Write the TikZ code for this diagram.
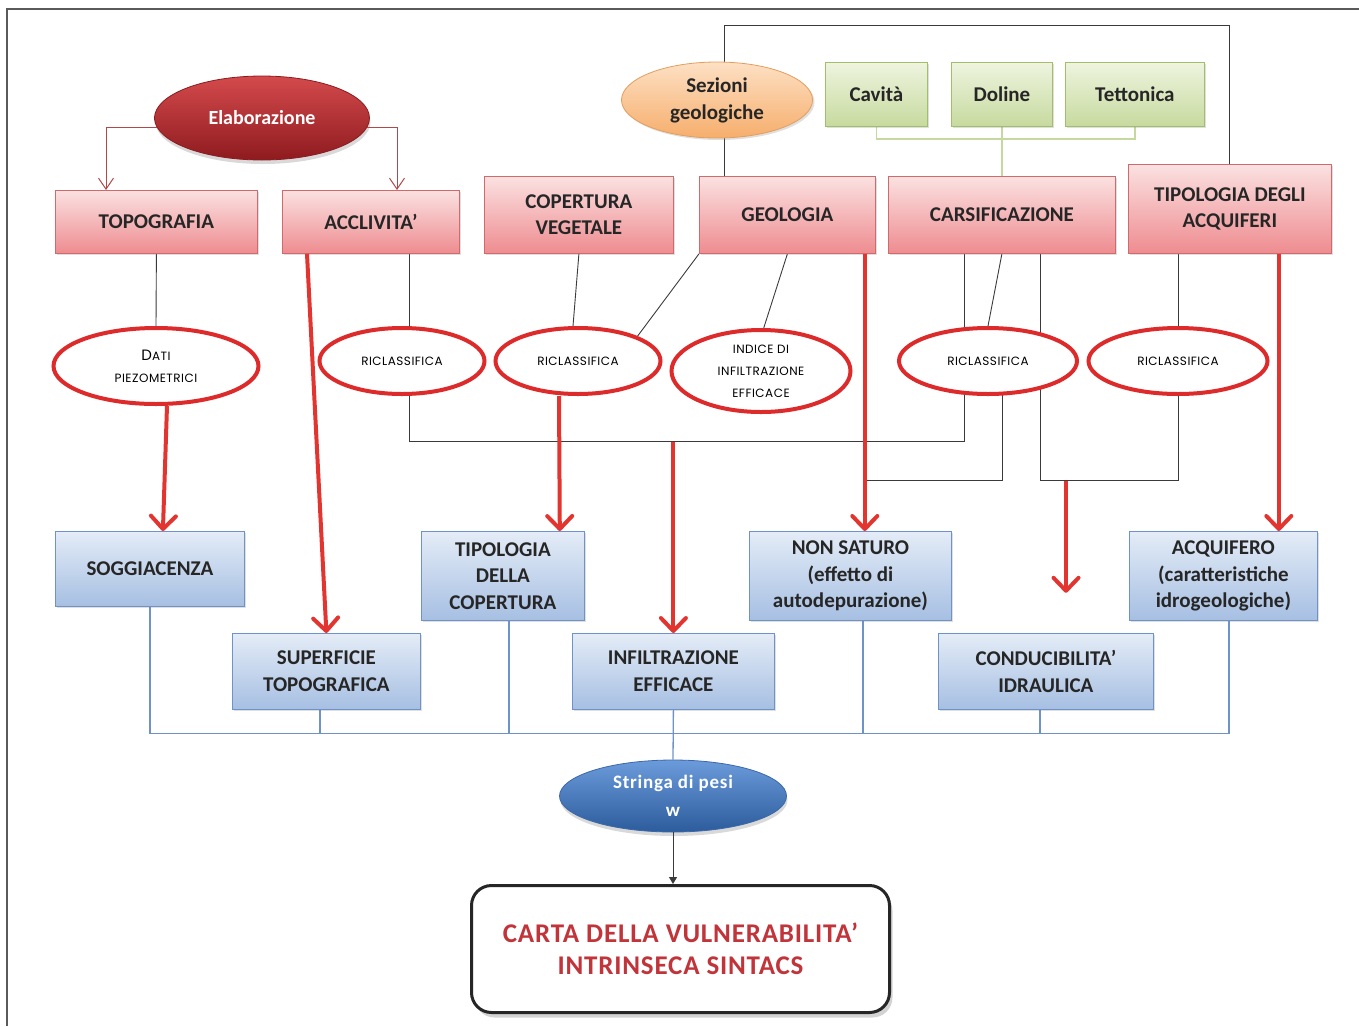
\documentclass[tikz,border=0pt]{standalone}
\usepackage{fontspec}
\setmainfont{Carlito}
\newfontfamily\ellfam{Poppins}[LetterSpace=4]
\usetikzlibrary{arrows.meta,shapes.geometric,shadows,calc,backgrounds}

\definecolor{pinkT}{HTML}{FBE1E1}
\definecolor{pinkB}{HTML}{EE8C90}
\definecolor{pinkE}{HTML}{D06A6D}
\definecolor{blueT}{HTML}{E4ECF7}
\definecolor{blueB}{HTML}{A6BFE2}
\definecolor{blueE}{HTML}{6F93C8}
\definecolor{greenT}{HTML}{EEF4DF}
\definecolor{greenB}{HTML}{C7DA9E}
\definecolor{greenE}{HTML}{A3BE6B}
\definecolor{orangeT}{HTML}{FDE0C4}
\definecolor{orangeB}{HTML}{F6AE6C}
\definecolor{orangeE}{HTML}{E39E5E}
\definecolor{elabT}{HTML}{D44A4C}
\definecolor{elabB}{HTML}{8E1B1F}
\definecolor{elabE}{HTML}{8A1C20}
\definecolor{strgT}{HTML}{6B9BDB}
\definecolor{strgB}{HTML}{2C5C9C}
\definecolor{strgE}{HTML}{3C68A8}
\definecolor{redE}{HTML}{DD2A2A}
\definecolor{redA}{HTML}{E33530}
\definecolor{txt}{HTML}{262626}
\definecolor{cartaRed}{HTML}{C0343A}
\definecolor{wire}{HTML}{3A3A3A}
\definecolor{busc}{HTML}{6E93C9}
\definecolor{grnw}{HTML}{C5D89F}
\definecolor{elabw}{HTML}{B0494C}
\definecolor{framec}{HTML}{5A5A5A}

\newcommand\bxfont{\bfseries\fontsize{21}{26.5}\selectfont}
\newcommand\elfont{\ellfam\fontsize{12}{22}\selectfont}

\tikzset{
  softshadow/.style={drop shadow={shadow xshift=2pt,shadow yshift=-2pt,opacity=0.25}},
  boxbase/.style={anchor=north west, inner sep=0pt, align=center, text=txt,
    font=\bxfont, line width=0.8pt, softshadow},
  pinkbox/.style={boxbase, draw=pinkE, top color=pinkT, bottom color=pinkB},
  bluebox/.style={boxbase, draw=blueE, top color=blueT, bottom color=blueB},
  greenbox/.style={boxbase, draw=greenE, top color=greenT, bottom color=greenB},
  elabstyle/.style={ellipse, draw=elabE, line width=0.8pt, top color=elabT,
    bottom color=elabB, text=white, inner sep=0pt, align=center,
    font=\bfseries\fontsize{20}{24}\selectfont,
    drop shadow={shadow xshift=1pt,shadow yshift=-4pt,opacity=0.3}},
  sezstyle/.style={ellipse, draw=orangeE, line width=0.8pt, top color=orangeT,
    bottom color=orangeB, text=txt, inner sep=0pt, align=center,
    font=\bfseries\fontsize{21}{27}\selectfont, softshadow},
  strgstyle/.style={ellipse, draw=strgE, line width=0.8pt, top color=strgT,
    bottom color=strgB, text=white, inner sep=0pt, align=center,
    font=\bfseries\fontsize{19}{28}\selectfont\addfontfeature{LetterSpace=4},
    drop shadow={shadow xshift=1pt,shadow yshift=-4pt,opacity=0.3}},
  redell/.style={ellipse, draw=redE, line width=4pt, fill=white, inner sep=0pt,
    align=center, font=\elfont, text=black},
  cartastyle/.style={anchor=north west, draw=txt, line width=3pt, fill=white,
    rounded corners=20pt, inner sep=0pt, align=center, text=cartaRed,
    font=\bfseries\fontsize{27}{32}\selectfont\addfontfeature{LetterSpace=3},
    drop shadow={shadow xshift=3pt,shadow yshift=-5pt,opacity=0.35}},
  blk/.style={draw=wire, line width=0.9pt},
  bus/.style={draw=busc, line width=1.3pt},
  grn/.style={draw=grnw, line width=1.6pt},
  elabarrow/.style={draw=elabw, line width=1pt, -{Straight Barb[length=11pt,width=15pt]}},
  redarrow/.style={draw=redA, line width=4pt,
    -{Straight Barb[length=13pt,width=25pt,line join=round,line cap=round]}},
}

\begin{document}
\begin{tikzpicture}[x=1pt,y=-1pt]
\useasboundingbox (0,0) rectangle (1359,1026);

% page frame
\draw[framec, line width=1.2pt] (7,1026) -- (7,9) -- (1359,9);

% ---- upper row: sources
\node[elabstyle, minimum width=215pt, minimum height=84pt] (elab) at (262,118) {Elaborazione};
\node[pinkbox, minimum width=202pt, minimum height=63pt] (topo) at (55,190) {TOPOGRAFIA};
\node[pinkbox, minimum width=177pt, minimum height=63pt] (accl) at (282,190) {ACCLIVITA’};
\node[pinkbox, minimum width=189pt, minimum height=77pt] (cope) at (484,176) {COPERTURA\\VEGETALE};
\node[pinkbox, minimum width=176pt, minimum height=77pt] (geol) at (699,176) {GEOLOGIA};
\node[pinkbox, minimum width=227pt, minimum height=77pt] (cars) at (888,176) {CARSIFICAZIONE};
\node[pinkbox, minimum width=203pt, minimum height=89pt] (tipa) at (1128,164) {TIPOLOGIA DEGLI\\ACQUIFERI};
\node[sezstyle, minimum width=191pt, minimum height=76pt] (sez) at (717,100) {Sezioni\\geologiche};
\node[greenbox, minimum width=102pt, minimum height=64pt] (cav) at (825,62) {Cavità};
\node[greenbox, minimum width=101pt, minimum height=64pt] (dol) at (951,62) {Doline};
\node[greenbox, minimum width=139pt, minimum height=64pt] (tet) at (1065,62) {Tettonica};

% ---- processing ellipses
\node[redell, minimum width=205pt, minimum height=76pt] (dati) at (156,366)
  {{\fontsize{15}{22}\selectfont D}ATI\\PIEZOMETRICI};
\node[redell, minimum width=165pt, minimum height=66pt] (ric1) at (402,361) {RICLASSIFICA};
\node[redell, minimum width=165pt, minimum height=66pt] (ric2) at (578,361) {RICLASSIFICA};
\node[redell, minimum width=179pt, minimum height=82pt] (indi) at (761,371)
  {INDICE DI\\INFILTRAZIONE\\EFFICACE};
\node[redell, minimum width=178pt, minimum height=66pt] (ric3) at (988,361) {RICLASSIFICA};
\node[redell, minimum width=179pt, minimum height=66pt] (ric4) at (1178,361) {RICLASSIFICA};

% ---- SINTACS parameters
\node[bluebox, minimum width=189pt, minimum height=75pt] (sogg) at (55,531) {SOGGIACENZA};
\node[bluebox, minimum width=188pt, minimum height=76pt] (supe) at (232,633) {SUPERFICIE\\TOPOGRAFICA};
\node[bluebox, minimum width=163pt, minimum height=89pt] (tdc) at (421,531) {TIPOLOGIA\\DELLA\\COPERTURA};
\node[bluebox, minimum width=202pt, minimum height=76pt] (infi) at (572,633) {INFILTRAZIONE\\EFFICACE};
\node[bluebox, minimum width=202pt, minimum height=89pt] (nons) at (749,531) {NON SATURO\\(effetto di\\autodepurazione)};
\node[bluebox, minimum width=215pt, minimum height=76pt] (cond) at (938,633) {CONDUCIBILITA’\\IDRAULICA};
\node[bluebox, minimum width=188pt, minimum height=89pt] (acqu) at (1129,531) {ACQUIFERO\\(caratteristiche\\idrogeologiche)};

% ---- output
\node[strgstyle, minimum width=227pt, minimum height=72pt] (strg) at (673,796) {Stringa di pesi\\w};
\node[cartastyle, minimum width=418pt, minimum height=127pt] (carta) at (470,884)
  {CARTA DELLA VULNERABILITA’\\INTRINSECA SINTACS};

% ---- helper points on node borders
\coordinate (sezx) at ($(sez.center)+(7,0)$);
\coordinate (r1x) at ($(accl.south west)+(127,0)$);
\coordinate (bus1) at ($(r1x)+(0,188)$);
\coordinate (c1) at ($(cars.south west)+(76,0)$);
\coordinate (c3) at ($(cars.south west)+(152,0)$);
\coordinate (g1) at ($(geol.south east)+(-11,0)$);
\coordinate (t1) at ($(tipa.south west)+(50,0)$);
\coordinate (t2) at ($(tipa.south east)+(-53,0)$);
\coordinate (k1) at ($(c3)+(26,227)$);
\coordinate (k2) at ($(k1)+(0,112)$);
\coordinate (busy) at ($(strg.north)+(0,-26)$);
\coordinate (b1) at ($(sogg.south west)+(95,0)$);
\coordinate (b2) at ($(supe.south west)+(88,0)$);
\coordinate (b3) at ($(tdc.south west)+(88,0)$);
\coordinate (b5) at ($(nons.south west)+(114,0)$);
\coordinate (b6) at ($(cond.south west)+(102,0)$);
\coordinate (b7) at ($(acqu.south west)+(100,0)$);

% ---- thin connectors, behind the shapes
\begin{scope}[on background layer]
  \draw[blk] (sezx |- geol.north) -- ++(0,-151) -| (tipa.north);
  \draw[blk] (topo.south) -- (dati.north);
  \draw[blk] (r1x) -- (bus1) -| (c1);
  \draw[blk] (cope.south) -- ($(ric2.north)+(-5,0)$);
  \draw[blk] (geol.south west) -- ($(ric2.center)+(41,0)$);
  \draw[blk] (geol.south) -- ($(indi.center)+(-11,0)$);
  \draw[blk] (cars.south) -- (ric3.north);
  \draw[blk] ($(ric3.center)+(14,0)$) |- ($(g1)+(0,227)$);
  \draw[blk] (c3) -- ++(0,227) -| (ric4.center);
  \draw[blk] (t1) -- (t1 |- ric4.center);
  \draw[grn] (cav.south) -- ++(0,12) -| (tet.south);
  \draw[grn] (dol.south) -- (cars.north);
  \draw[bus] (b1) -- (b1 |- busy) -- (b7 |- busy) -- (b7);
  \foreach \b in {b2,b3,b5,b6} \draw[bus] (\b) -- (\b |- busy);
  \draw[bus] (infi.south) -- (strg.north);
\end{scope}

% ---- arrows
\draw[elabarrow] (elab.185) -| ($(topo.north west)+(51,0)$);
\draw[elabarrow] (elab.355) -| ($(accl.north west)+(115,0)$);
\draw[redarrow] ($(dati.south)+(11,0)$) -- ($(sogg.north)+(13,0)$);
\draw[redarrow] ($(accl.south west)+(25,0)$) -- (supe.north);
\draw[redarrow] ($(ric2.south)+(-19,0)$) -- ($(tdc.north east)+(-25,0)$);
\draw[redarrow] (infi.north |- bus1) -- (infi.north);
\draw[redarrow] (g1) -- (g1 |- nons.north);
\draw[redarrow] (k1) -- (k2);
\draw[redarrow] (t2) -- (t2 |- acqu.north);
\draw[blk, -{Triangle[length=7pt,width=8pt]}] (strg.south) -- (strg.south |- carta.north);
\end{tikzpicture}
\end{document}
